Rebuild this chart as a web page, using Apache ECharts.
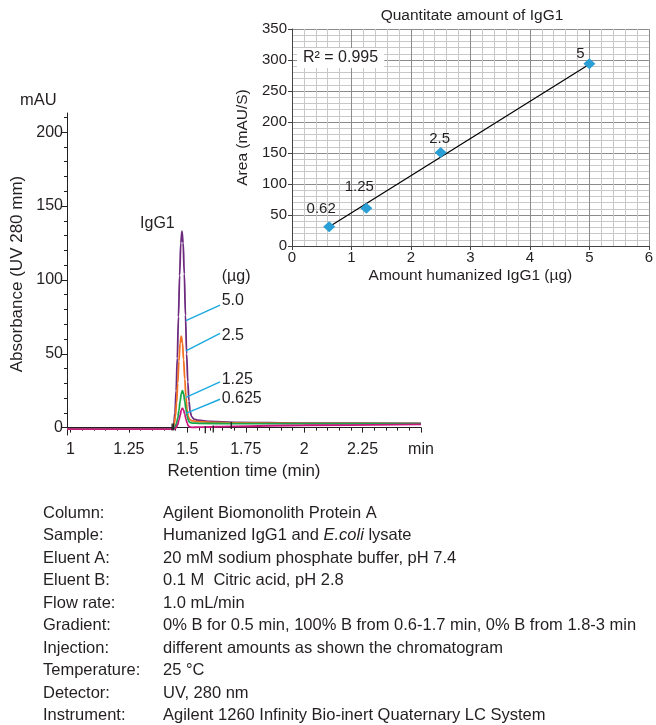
<!DOCTYPE html>
<html>
<head>
<meta charset="utf-8">
<title>IgG1 Protein A</title>
<script src="https://cdn.jsdelivr.net/npm/echarts@6/dist/echarts.min.js"></script>
<style>
  html, body { margin: 0; padding: 0; background: #fff; }
  #chart { width: 656px; height: 725px; }
</style>
</head>
<body>
<div id="chart"></div>
<script>
/*--------------------- data: chromatogram ----------------------------*/
// [retention time (min), absorbance (mAU)]
var trace50 = [[0.985, -1], [1.43, -1], [1.437, -0.8], [1.442, 2.5], [1.447, 10], [1.452, 25], [1.457, 47],
    [1.462, 75], [1.467, 103], [1.472, 125], [1.477, 133], [1.482, 125], [1.487, 104], [1.492, 76],
    [1.497, 50], [1.502, 31], [1.507, 18], [1.512, 11], [1.518, 7.5], [1.528, 5.8], [1.545, 5],
    [1.6, 4.2], [1.7, 3.6], [2.0, 3], [2.5, 2.8]];
var trace25 = [[0.985, -1], [1.43, -1], [1.439, -0.6], [1.444, 2.5], [1.449, 8], [1.454, 17], [1.459, 30],
    [1.464, 45], [1.469, 57], [1.474, 62], [1.479, 57.5], [1.484, 46], [1.489, 33], [1.494, 21],
    [1.499, 12], [1.504, 7.5], [1.51, 5.5], [1.52, 4.6], [1.54, 4.1], [1.6, 3.6], [1.7, 3.2],
    [2.0, 2.9], [2.5, 2.7]];
var trace125 = [[0.985, -1], [1.43, -1], [1.444, -0.6], [1.449, 0.8], [1.454, 3], [1.459, 6.5], [1.464, 11.5],
    [1.469, 17.7], [1.474, 23], [1.479, 25], [1.484, 23], [1.489, 18], [1.494, 12.5], [1.499, 8],
    [1.504, 5], [1.51, 3.6], [1.52, 3.1], [1.55, 2.9], [1.7, 2.7], [2.5, 2.6]];
var trace0625 = [[0.985, -1], [1.43, -1], [1.449, -0.6], [1.454, 0.5], [1.459, 2.3], [1.464, 5], [1.469, 8.2],
    [1.474, 11.9], [1.479, 13], [1.484, 11.9], [1.489, 9], [1.494, 5.8], [1.499, 3], [1.504, 1.3],
    [1.51, 0.5], [1.52, 0.2], [1.55, 0.3], [1.7, 0.9], [2.0, 1.6], [2.5, 2.2]];
// integration marks on the baseline
var integMarks = [[1.435, 0.5], [1.441, 0.5], [1.577, -1.5], [1.611, -1], [1.688, 1.5]];
var amountLabels = ['5.0', '2.5', '1.25', '0.625'];
var peakName = 'IgG1';

var xTicks = [1, 1.25, 1.5, 1.75, 2, 2.25, 2.5];
var yTicks = [0, 50, 100, 150, 200];

/*--------------------- data: calibration inset ----------------------------*/
var amounts = [0.625, 1.25, 2.5, 5];
var areas = [31, 61, 151, 294];
var pointLabels = ['0.62', '1.25', '2.5', '5'];
var trendLine = [[0.625, 31], [5, 293]];
var rSquared = 'R\u00b2 = 0.995';

/*--------------------- info table ----------------------------*/
var infoKeys = ['Column:', 'Sample:', 'Eluent A:', 'Eluent B:', 'Flow rate:', 'Gradient:', 'Injection:',
    'Temperature:', 'Detector:', 'Instrument:'];
var infoVals = ['Agilent Biomonolith Protein A',
    'Humanized IgG1 and {i|E.coli} lysate',
    '20 mM sodium phosphate buffer, pH 7.4',
    '0.1 M  Citric acid, pH 2.8',
    '1.0 mL/min',
    '0% B for 0.5 min, 100% B from 0.6-1.7 min, 0% B from 1.8-3 min',
    'different amounts as shown the chromatogram',
    '25 \u00b0C',
    'UV, 280 nm',
    'Agilent 1260 Infinity Bio-inert Quaternary LC System'];

/*--------------------- styles ----------------------------*/
var FONT = '"Liberation Sans", Arial, sans-serif';
var INK = '#231f20';
var traceColors = ['#6d2a7f', '#f37021', '#14a84b', '#c8187e'];
var leaderColor = '#1ba9e1';
var diamondColor = '#2a9fd6';

// minor tick positions (not data)
var minorX = [], minorY = [];
for (var k = 1; k < 30; k++) {
    if (k % 5) minorX.push(+(1 + k * 0.05).toFixed(2));
}
for (var j = 1; j <= 21; j++) {
    if (j % 5) minorY.push(j * 10);
}

// label anchors and leader lines for the amount annotations (layout only)
var labelX = 1.647;
var labelY = [85.9, 62, 32.2, 19.4];
var leaders = [
    [[1.640, 83], [1.494, 72.4]],
    [[1.640, 63.8], [1.494, 52]],
    [[1.640, 31], [1.494, 20.5]],
    [[1.640, 19.2], [1.494, 9.7]]
];
var pointShift = [[-8, -18], [-7, -21], [-1, -14], [-9, -10]];

var traces = [trace50, trace25, trace125, trace0625];

var series = [];
traces.forEach(function (d, i) {
    series.push({
        name: amountLabels[i],
        type: 'line',
        xAxisIndex: 0,
        yAxisIndex: 0,
        data: d,
        showSymbol: false,
        smooth: 0.35,
        smoothMonotone: 'x',
        clip: false,
        lineStyle: { color: traceColors[i], width: 1.8 },
        z: 3 + i
    });
});

series.push({
    type: 'scatter',
    xAxisIndex: 0,
    yAxisIndex: 0,
    data: integMarks,
    symbol: 'rect',
    symbolSize: [1.3, 7],
    itemStyle: { color: INK, opacity: 1 },
    silent: true,
    z: 8
});

series.push({
    type: 'lines',
    coordinateSystem: 'cartesian2d',
    xAxisIndex: 0,
    yAxisIndex: 0,
    data: leaders.map(function (c) { return { coords: c }; }),
    lineStyle: { color: leaderColor, width: 1.4, opacity: 1 },
    silent: true,
    z: 9
});

// amount labels
series.push({
    type: 'scatter',
    xAxisIndex: 0,
    yAxisIndex: 0,
    symbolSize: 0,
    itemStyle: { opacity: 1 },
    data: amountLabels.map(function (t, i) { return [labelX, labelY[i], t]; })
        .concat([[labelX, 102, '(\u00b5g)']]),
    label: {
        show: true,
        position: 'right',
        distance: 0,
        formatter: function (p) { return p.value[2]; },
        fontFamily: FONT,
        fontSize: 16,
        color: INK
    },
    silent: true
});

// peak name
series.push({
    type: 'scatter',
    xAxisIndex: 0,
    yAxisIndex: 0,
    symbolSize: 0,
    itemStyle: { opacity: 1 },
    data: [[1.372, 137.8, peakName]],
    label: {
        show: true,
        position: 'inside',
        formatter: function (p) { return p.value[2]; },
        fontFamily: FONT,
        fontSize: 16,
        color: INK
    },
    silent: true
});

// inset: trend line
series.push({
    type: 'line',
    xAxisIndex: 2,
    yAxisIndex: 2,
    data: trendLine,
    showSymbol: false,
    lineStyle: { color: '#000', width: 1.2 },
    z: 5
});

// inset: calibration points
series.push({
    type: 'scatter',
    xAxisIndex: 2,
    yAxisIndex: 2,
    symbol: 'diamond',
    symbolSize: [12, 11],
    itemStyle: { color: diamondColor, opacity: 1 },
    data: amounts.map(function (a, i) {
        return {
            value: [a, areas[i]],
            label: { offset: pointShift[i] }
        };
    }),
    label: {
        show: true,
        position: 'inside',
        formatter: function (p) { return pointLabels[p.dataIndex]; },
        fontFamily: FONT,
        fontSize: 15,
        color: INK
    },
    z: 6
});

var option = {
    backgroundColor: '#fff',
    animation: false,
    textStyle: { fontFamily: FONT },
    title: [{
        text: 'Quantitate amount of IgG1',
        left: 472,
        top: 8,
        textAlign: 'center',
        padding: 0,
        textStyle: { fontFamily: FONT, fontSize: 15.5, fontWeight: 'normal', color: INK }
    }, {
        text: 'mAU',
        left: 20,
        top: 92,
        padding: 0,
        textStyle: { fontFamily: FONT, fontSize: 16.5, fontWeight: 'normal', color: INK }
    }, {
        text: infoKeys.join('\n'),
        left: 43,
        top: 502,
        padding: 0,
        textStyle: { fontFamily: FONT, fontSize: 16.5, fontWeight: 'normal', color: INK, lineHeight: 22.5 }
    }, {
        text: infoVals.join('\n'),
        left: 163,
        top: 502,
        padding: 0,
        textStyle: {
            fontFamily: FONT, fontSize: 16.5, fontWeight: 'normal', color: INK, lineHeight: 22.5,
            rich: {
                i: { fontFamily: FONT, fontSize: 16.5, fontStyle: 'italic', color: INK, lineHeight: 22.5 }
            }
        }
    }],
    grid: [
        { left: 67, right: 235, top: 113, bottom: 290 },
        { left: 292, right: 4, top: 29, bottom: 479 }
    ],
    xAxis: [{
        // chromatogram, main ticks + labels
        type: 'value',
        gridIndex: 0,
        min: 0.985,
        max: 2.5,
        name: 'Retention time (min)',
        nameLocation: 'middle',
        nameGap: 28,
        nameTextStyle: { fontFamily: FONT, fontSize: 17, color: INK },
        axisLine: { lineStyle: { color: INK, width: 1 } },
        axisTick: { customValues: xTicks, length: 5, lineStyle: { color: INK } },
        axisLabel: {
            customValues: xTicks,
            margin: 7,
            fontFamily: FONT,
            fontSize: 16,
            color: INK,
            formatter: function (v) { return v === 2.5 ? 'min' : String(v); }
        },
        splitLine: { show: false }
    }, {
        // chromatogram, minor ticks
        type: 'value',
        gridIndex: 0,
        position: 'bottom',
        min: 0.985,
        max: 2.5,
        axisLine: { show: false },
        axisTick: { customValues: minorX, length: 3, lineStyle: { color: INK } },
        axisLabel: { show: false },
        splitLine: { show: false }
    }, {
        // inset
        type: 'value',
        gridIndex: 1,
        min: 0,
        max: 6,
        interval: 1,
        name: 'Amount humanized IgG1 (\u00b5g)',
        nameLocation: 'middle',
        nameGap: 22,
        nameTextStyle: { fontFamily: FONT, fontSize: 15.5, color: INK },
        axisLine: { lineStyle: { color: '#444', width: 1 } },
        axisTick: { length: 4, lineStyle: { color: '#444' } },
        axisLabel: { margin: 4, fontFamily: FONT, fontSize: 15, color: INK },
        splitLine: { show: true, lineStyle: { color: '#8c8c8c', width: 1 } },
        minorTick: { show: false, splitNumber: 5 },
        minorSplitLine: { show: true, lineStyle: { color: '#c8c8c8', width: 1 } }
    }],
    yAxis: [{
        type: 'value',
        gridIndex: 0,
        min: -5,
        max: 213,
        name: 'Absorbance (UV 280 mm)',
        nameLocation: 'middle',
        nameGap: 39,
        nameTextStyle: { fontFamily: FONT, fontSize: 17, color: INK },
        axisLine: { show: true, lineStyle: { color: INK, width: 1 } },
        axisTick: { show: true, customValues: yTicks, length: 5, lineStyle: { color: INK } },
        axisLabel: { customValues: yTicks, margin: 4, fontFamily: FONT, fontSize: 16, color: INK },
        splitLine: { show: false }
    }, {
        type: 'value',
        gridIndex: 0,
        position: 'left',
        min: -5,
        max: 213,
        axisLine: { show: false },
        axisTick: { show: true, customValues: minorY, length: 3, lineStyle: { color: INK } },
        axisLabel: { show: false },
        splitLine: { show: false }
    }, {
        type: 'value',
        gridIndex: 1,
        min: 0,
        max: 350,
        interval: 50,
        name: 'Area (mAU/S)',
        nameLocation: 'middle',
        nameGap: 31,
        nameTextStyle: { fontFamily: FONT, fontSize: 15.5, color: INK },
        axisLine: { show: true, lineStyle: { color: '#444', width: 1 } },
        axisTick: { show: true, length: 4, lineStyle: { color: '#444' } },
        axisLabel: { margin: 5, fontFamily: FONT, fontSize: 15, color: INK },
        splitLine: { show: true, lineStyle: { color: '#8c8c8c', width: 1 } },
        minorTick: { show: false, splitNumber: 5 },
        minorSplitLine: { show: true, lineStyle: { color: '#c8c8c8', width: 1 } }
    }],
    graphic: [{
        type: 'text',
        left: 297,
        top: 48,
        z: 100,
        style: {
            text: rSquared,
            font: '16px ' + FONT,
            fill: INK,
            backgroundColor: '#fff',
            padding: [2, 6, 2, 6]
        }
    }],
    series: series
};

var myChart = echarts.init(document.getElementById('chart'));
myChart.setOption(option);
</script>
</body>
</html>
